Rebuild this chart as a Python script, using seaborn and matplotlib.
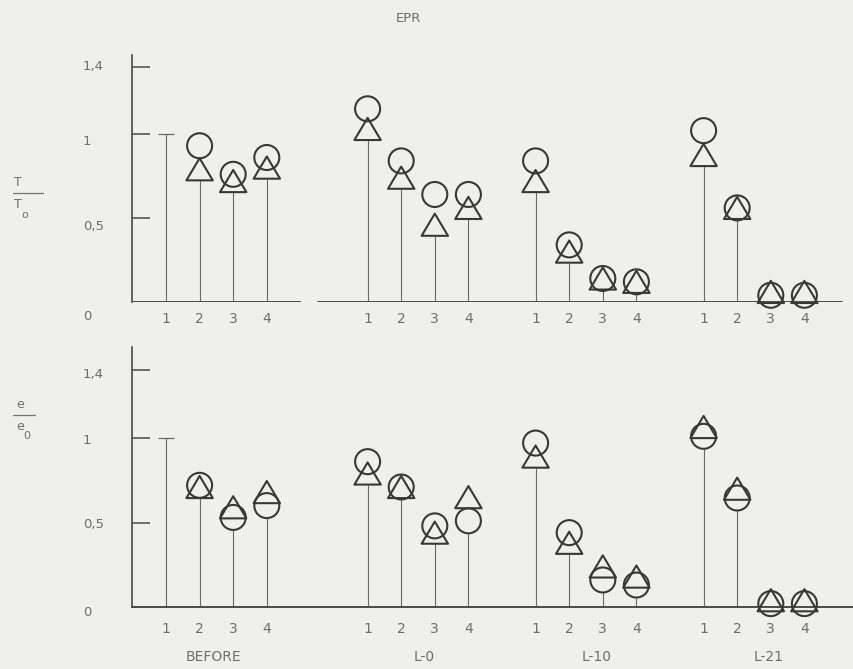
import numpy as np
import pandas as pd
import matplotlib
matplotlib.use("Agg")
import matplotlib.pyplot as plt
import seaborn as sns
from matplotlib.lines import Line2D
from matplotlib.path import Path
from matplotlib.transforms import blended_transform_factory, ScaledTranslation

# ---------------- data ----------------
groups = ["BEFORE", "L-0", "L-10", "L-21"]
specimens = ["1", "2", "3", "4"]
reference_value = 1.0  # specimen 1 before exposure (normalisation reference)

# T/T0 (top panel)
T_circle = [np.nan, 0.93, 0.76, 0.86,
            1.15, 0.84, 0.64, 0.64,
            0.84, 0.34, 0.14, 0.12,
            1.02, 0.56, 0.04, 0.04]
T_triangle = [np.nan, 0.79, 0.72, 0.80,
              1.03, 0.74, 0.46, 0.56,
              0.72, 0.30, 0.14, 0.12,
              0.875, 0.56, 0.06, 0.06]

# e/e0 (bottom panel)
e_circle = [np.nan, 0.72, 0.53, 0.60,
            0.86, 0.71, 0.48, 0.51,
            0.97, 0.44, 0.16, 0.13,
            1.01, 0.645, 0.02, 0.02]
e_triangle = [np.nan, 0.71, 0.59, 0.68,
              0.79, 0.71, 0.44, 0.65,
              0.89, 0.38, 0.24, 0.18,
              1.065, 0.70, 0.04, 0.04]

y_ticks = [0, 0.5, 1, 1.4]
y_tick_labels = ["0", "0,5", "1", "1,4"]

# ---------------- layout ----------------
group_starts = [0, 6, 11, 16]
pos = np.array([s + k for s in group_starts for k in range(len(specimens))], dtype=float)
spec_labels = [sp for _ in groups for sp in specimens]

W, H = 854, 669
BG = "#efefec"
LINE = "#4a4a4a"
MARK = "#383838"
TXT = "#6e6e6e"

sns.set_theme(style="white")
plt.rcParams["font.family"] = ["Liberation Sans Narrow", "DejaVu Sans"]

fig = plt.figure(figsize=(W / 100, H / 100), dpi=100, facecolor=BG)

def px_rect(left, top, right, bottom):
    return [left / W, (H - bottom) / H, (right - left) / W, (bottom - top) / H]

axT = fig.add_axes(px_rect(132, 55, 854, 302))
axB = fig.add_axes(px_rect(132, 347, 854, 607))

xlim = ((132 - 166) / 33.6, (854 - 166) / 33.6)

tri_marker = Path([(-1, -0.84), (1, -0.84), (0, 0.84), (-1, -0.84)],
                  [Path.MOVETO, Path.LINETO, Path.LINETO, Path.CLOSEPOLY])
CIRC_PT = 18.0
TRI_PT = 19.0

def draw_panel(ax, circ, tri, ylim, label_offsets, xlabel_pad):
    ax.set_facecolor(BG)
    ax.set_xlim(*xlim)
    ax.set_ylim(*ylim)
    fig.canvas.draw()
    bbox = ax.get_window_extent()
    px_per_unit = bbox.height / (ylim[1] - ylim[0])
    circ = np.array(circ)
    tri = np.array(tri)
    r_c = CIRC_PT / 72 * 100 / 2 / px_per_unit
    r_t = TRI_PT * 0.84 / 72 * 100 / 2 / px_per_unit
    tops = np.fmin(circ - r_c, tri - r_t)
    has = ~np.isnan(circ)
    tops = np.where(has, np.clip(tops, 0, None), reference_value)
    ax.vlines(pos, 0, tops, color="#6a6a6a", lw=0.8, zorder=1)
    # reference cap for specimen 1 before
    ref = ~has
    ax.hlines(np.full(ref.sum(), reference_value), pos[ref] - 0.24, pos[ref] + 0.24,
              color="#6a6a6a", lw=0.9, zorder=1)

    df = pd.DataFrame({"x": np.concatenate([pos, pos]),
                       "y": np.concatenate([circ, tri]),
                       "kind": ["circle"] * len(pos) + ["triangle"] * len(pos)}).dropna()
    for kind, mk, sz in [("circle", "o", CIRC_PT), ("triangle", tri_marker, TRI_PT)]:
        sub = df[df.kind == kind]
        sns.scatterplot(data=sub, x="x", y="y", marker=mk, s=sz ** 2, ax=ax,
                        color=MARK, legend=False, zorder=3, clip_on=False)
        coll = ax.collections[-1]
        coll.set_facecolor("none")
        coll.set_edgecolor(MARK)
        coll.set_linewidth(1.5)
        coll.set_clip_on(False)

    ax.set_xlabel("")
    ax.set_ylabel("")
    for s in ["top", "right"]:
        ax.spines[s].set_visible(False)
    ax.spines["left"].set_color(LINE)
    ax.spines["left"].set_linewidth(1.2)
    ax.spines["bottom"].set_color(LINE)
    ax.spines["bottom"].set_linewidth(1.4)

    ax.set_yticks([t for t in y_ticks if t > 0])
    ax.set_yticklabels([])
    ax.tick_params(axis="y", direction="in", length=13, width=1.1, color=LINE, left=True)
    trans = blended_transform_factory(ax.transAxes, ax.transData)
    for v, lab, off in zip(y_ticks, y_tick_labels, label_offsets):
        ax.text((83 - 132) / 722, v, lab,
                transform=trans + ScaledTranslation(0, off / 100, fig.dpi_scale_trans),
                ha="left", va="center", fontsize=9.5, color=TXT)

    ax.set_xticks(pos)
    ax.set_xticklabels(spec_labels, fontsize=10, color=TXT)
    ax.tick_params(axis="x", length=0, pad=xlabel_pad, bottom=True)
    ax.grid(False)

draw_panel(axT, T_circle, T_triangle, (0, 247 / 168), [-14, -8, -7, 0], 7)
draw_panel(axB, e_circle, e_triangle, (0, 260 / 169), [-5, -2, -2, -4], 10.5)

# top panel axis line is broken between the BEFORE block and the rest
axT.spines["bottom"].set_visible(False)
axT.axhline(0, xmin=0, xmax=(300 - 132) / 722, color=LINE, lw=1.4, zorder=2)
axT.axhline(0, xmin=(318 - 132) / 722, xmax=(842 - 132) / 722, color=LINE, lw=1.4, zorder=2)

# group labels
gtrans = blended_transform_factory(axB.transData, axB.transAxes)
group_label_x = [1.4, 7.68, 12.83, 17.95]
for gx, g in zip(group_label_x, groups):
    axB.text(gx, (607 - 657) / 260, g, transform=gtrans, ha="center", va="center",
             fontsize=10, color=TXT)

# title
fig.text(408 / W, 1 - 18 / H, "EPR", ha="center", va="center", fontsize=9.5, color=TXT)

# fraction-style y labels
def frac_label(num, den, sub, xc, y_num, y_line, y_den, y_sub, x_sub, x0, x1):
    fig.text(xc / W, 1 - y_num / H, num, ha="center", va="center", fontsize=9, color=TXT)
    fig.add_artist(Line2D([x0 / W, x1 / W], [1 - y_line / H, 1 - y_line / H],
                          transform=fig.transFigure, color="#777777", lw=0.9))
    fig.text(xc / W, 1 - y_den / H, den, ha="center", va="center", fontsize=9, color=TXT)
    fig.text(x_sub / W, 1 - y_sub / H, sub, ha="center", va="center", fontsize=8, color=TXT)

frac_label("T", "T", "o", 18, 182, 193, 204, 215, 25, 13, 43)
frac_label("e", "e", "0", 20, 404, 415, 426, 436, 27, 13, 35)

fig.savefig("out.png", dpi=100, facecolor=BG)
